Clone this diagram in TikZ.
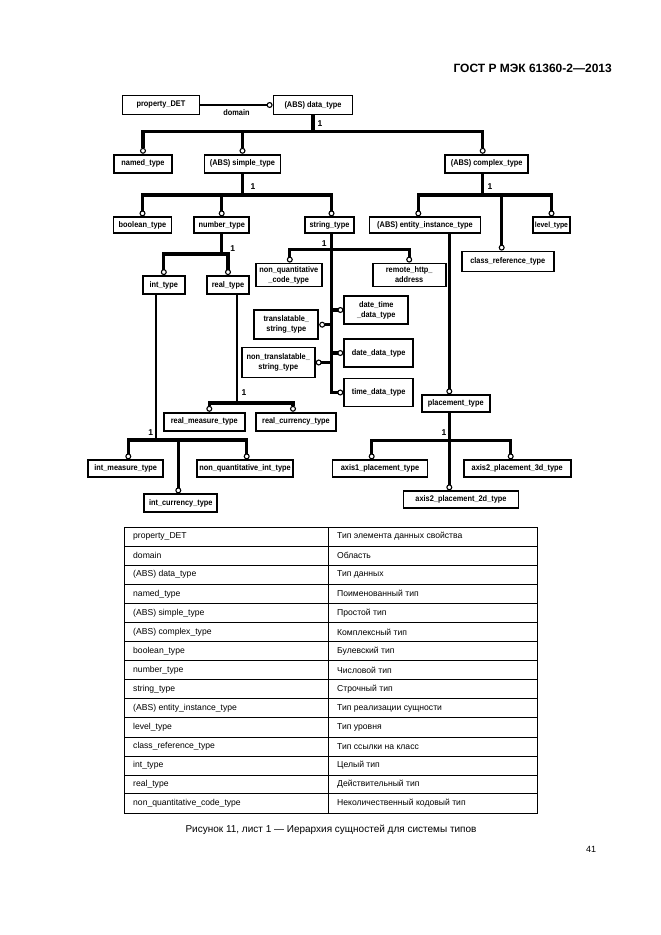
\documentclass[tikz,border=0pt]{standalone}
\usepackage{fontspec}
\setmainfont{Liberation Sans}
\newfontfamily\boxfont[FakeStretch=0.9]{Liberation Sans}
\usetikzlibrary{arrows.meta}

\tikzset{
  box/.style={draw,line width=1.8pt,inner sep=1pt,align=center,font=\boxfont\bfseries\fontsize{8.2}{10}\selectfont},
  bus/.style={line width=3.2pt},
  stem/.style={line width=2.4pt},
  link/.style={line width=1.3pt},
  ring/.style={-{Circle[open,length=6pt,width=6pt,line width'=1.1pt]}},
  one/.style={font=\bfseries\fontsize{8.5}{8.5}\selectfont,inner sep=0pt},
  cell/.style={font=\fontsize{8.6}{9}\selectfont,anchor=west,inner sep=0pt},
}

\begin{document}
\begin{tikzpicture}[x=1pt,y=-1pt]
\path[use as bounding box,fill=white] (0,0) rectangle (661,935);

\node[font=\bfseries\fontsize{12}{13}\selectfont,anchor=east,inner sep=0pt] (head) at (612,68) {ГОСТ Р МЭК 61360-2—2013};

% boxes
\node[box,minimum width=77pt,minimum height=19pt] (prop) at (161,105) {property\_DET};
\node[box,minimum width=79pt,minimum height=19pt] (data) at (313,105) {(ABS) data\_type};

\node[box,minimum width=58pt,minimum height=18pt] (named) at (143,163.7) {named\_type};
\node[box,minimum width=76pt,minimum height=18pt] (simple) at (242.5,163.7) {(ABS) simple\_type};
\node[box,minimum width=83pt,minimum height=18pt] (complex) at (486.7,163.7) {(ABS) complex\_type};

\node[box,minimum width=58pt,minimum height=16pt] (bool) at (142.5,225.3) {boolean\_type};
\node[box,minimum width=55pt,minimum height=16pt] (number) at (221.7,225.3) {number\_type};
\node[box,minimum width=49pt,minimum height=16pt] (string) at (329.5,225.3) {string\_type};
\node[box,minimum width=111pt,minimum height=16pt] (entity) at (425,225.3) {(ABS) entity\_instance\_type};
\node[box,minimum width=37pt,minimum height=16pt,inner sep=0pt,font=\boxfont\bfseries\fontsize{7.6}{10}\selectfont] (level) at (551.5,225.3) {level\_type};
\node[box,minimum width=92pt,minimum height=20pt] (classref) at (507.8,261.5) {class\_reference\_type};

\node[box,minimum width=42pt,minimum height=18pt] (int) at (163.8,285) {int\_type};
\node[box,minimum width=42pt,minimum height=18pt] (real) at (228,285) {real\_type};

\node[box,minimum width=66pt,minimum height=23pt] (nqcode) at (288.8,275) {non\_quantitative\\\_code\_type};
\node[box,minimum width=73pt,minimum height=23pt] (remote) at (409.2,275) {remote\_http\_\\address};
\node[box,minimum width=64pt,minimum height=28pt] (datetime) at (376.3,310) {date\_time\\\_data\_type};
\node[box,minimum width=64pt,minimum height=29pt] (trans) at (286.3,324.7) {translatable\_\\string\_type};
\node[box,minimum width=73pt,minimum height=30pt] (nontrans) at (278.3,362.5) {non\_translatable\_\\string\_type};
\node[box,minimum width=69pt,minimum height=28pt] (datedata) at (378.7,353) {date\_data\_type};
\node[box,minimum width=69pt,minimum height=28pt] (timedata) at (378.7,392.5) {time\_data\_type};

\node[box,minimum width=81pt,minimum height=18pt] (rmeasure) at (204.3,421.7) {real\_measure\_type};
\node[box,minimum width=80pt,minimum height=18pt] (rcurrency) at (296,421.7) {real\_currency\_type};

\node[box,minimum width=75pt,minimum height=17pt] (imeasure) at (125.7,468.8) {int\_measure\_type};
\node[box,minimum width=96pt,minimum height=17pt] (nqint) at (245,468.8) {non\_quantitative\_int\_type};
\node[box,minimum width=73pt,minimum height=18pt] (icurrency) at (180.8,503.3) {int\_currency\_type};

\node[box,minimum width=68pt,minimum height=17pt] (placement) at (455.8,403.7) {placement\_type};
\node[box,minimum width=95pt,minimum height=17pt] (axisa) at (380,468.8) {axis1\_placement\_type};
\node[box,minimum width=107pt,minimum height=17pt] (axisc) at (517.2,468.8) {axis2\_placement\_3d\_type};
\node[box,minimum width=115pt,minimum height=17pt] (axisb) at (461,499.7) {axis2\_placement\_2d\_type};

% domain
\draw[link,ring] (prop) -- node[midway,below=1pt,font=\boxfont\bfseries\fontsize{8.2}{8.2}\selectfont] (dom) {domain} (data);

% data_type
\coordinate (dbus) at (313,131.7);
\draw[bus] (data.south) -- (dbus);
\draw[bus,ring] (dbus) -| (named.north);
\draw[bus,ring] (dbus) -| (simple.north);
\draw[bus,ring] (dbus) -| ([xshift=-4pt]complex.north);
\node[one] (d1) at (320,124) {1};

% simple_type
\coordinate (sbus) at (242.5,195);
\draw[bus] (simple.south) -- (sbus);
\draw[bus,ring] (sbus) -| (bool.north);
\draw[bus,ring] (sbus) -| (number.north);
\draw[bus,ring] (sbus) -| ([xshift=2pt]string.north);
\node[one] (s1) at (253,187) {1};

% complex_type
\coordinate (cbus) at (482.7,195);
\draw[bus] ([xshift=-4pt]complex.south) -- (cbus);
\draw[bus,ring] (cbus) -| ([xshift=-6.7pt]entity.north);
\draw[bus,ring] (cbus) -| (level.north);
\draw[bus,ring] (cbus) -| ([xshift=-6.1pt]classref.north);
\node[one] (c1) at (490,187) {1};

% number_type
\coordinate (nbus) at (221.7,254);
\draw[bus] (number.south) -- (nbus);
\draw[bus,ring] (nbus) -| (int.north);
\draw[bus,ring] (nbus) -| (real.north);
\node[one] (n1) at (232.7,248.3) {1};

% string_type
\coordinate (strbus) at (331.7,249.3);
\draw[bus,ring] ([xshift=2pt]string.south) |- (timedata.west);
\draw[bus,ring] (strbus) -| ([xshift=1pt]nqcode.north);
\draw[bus,ring] (strbus) -| (remote.north);
\draw[bus,ring] (strbus |- datetime.west) -- (datetime.west);
\draw[bus,ring] (strbus |- trans.east) -- (trans.east);
\draw[bus,ring] (strbus |- nontrans.east) -- (nontrans.east);
\draw[bus,ring] (strbus |- datedata.west) -- (datedata.west);
\node[one] (str1) at (324.3,243.3) {1};

% entity_instance_type
\draw[stem,ring] ([xshift=24.3pt]entity.south) -- ([xshift=-6.5pt]placement.north);

% real_type
\coordinate (rbus) at (237,403);
\draw[stem] ([xshift=9pt]real.south) -- (rbus);
\draw[bus,ring] (rbus) -| ([xshift=5pt]rmeasure.north);
\draw[bus,ring] (rbus) -| ([xshift=-3pt]rcurrency.north);
\node[one] (r1) at (244,393) {1};

% int_type
\coordinate (ibus) at (156,440);
\draw[stem] ([xshift=-7.8pt]int.south) -- (ibus);
\draw[bus,ring] (ibus) -| ([xshift=2.6pt]imeasure.north);
\draw[bus,ring] (ibus) -| ([xshift=1.7pt]nqint.north);
\draw[bus,ring] (ibus) -| ([xshift=-2.5pt]icurrency.north);
\node[one] (i1) at (150.7,432.7) {1};

% placement_type
\coordinate (pbus) at (449.3,440.7);
\draw[bus,ring] ([xshift=-6.5pt]placement.south) -- ([xshift=-11.7pt]axisb.north);
\draw[bus,ring] (pbus) -| ([xshift=-8.3pt]axisa.north);
\draw[bus,ring] (pbus) -| ([xshift=-6.5pt]axisc.north);
\node[one] (p1) at (444,432.7) {1};

% table
\draw[line width=0.8pt] (124,527) rectangle (537.3,813);
\draw[line width=0.5pt] (328.3,527) -- (328.3,813);
\foreach \i in {1,...,13}
  \draw[line width=0.5pt] (124,{527+19.07*\i}) -- (537.3,{527+19.07*\i});
\draw[line width=1pt] (124,{527+19.07*14}) -- (537.3,{527+19.07*14});
\foreach \en/\ru [count=\i] in {
  property\_DET/Тип элемента данных свойства,
  domain/Область,
  (ABS) data\_type/Тип данных,
  named\_type/Поименованный тип,
  (ABS) simple\_type/Простой тип,
  (ABS) complex\_type/Комплексный тип,
  boolean\_type/Булевский тип,
  number\_type/Числовой тип,
  string\_type/Строчный тип,
  (ABS) entity\_instance\_type/Тип реализации сущности,
  level\_type/Тип уровня,
  class\_reference\_type/Тип ссылки на класс,
  int\_type/Целый тип,
  real\_type/Действительный тип,
  non\_quantitative\_code\_type/Неколичественный кодовый тип}{
  \node[cell] (en\i) at (133,{527+19.07*\i-9.5}) {\en};
  \node[cell] (ru\i) at (337,{527+19.07*\i-9.5}) {\ru};
}

\node[font=\fontsize{10}{11}\selectfont] (cap) at (331,830) {Рисунок 11, лист 1 — Иерархия сущностей для системы типов};
\node[font=\fontsize{9}{10}\selectfont] (page) at (591,849) {41};
\end{tikzpicture}
\end{document}
